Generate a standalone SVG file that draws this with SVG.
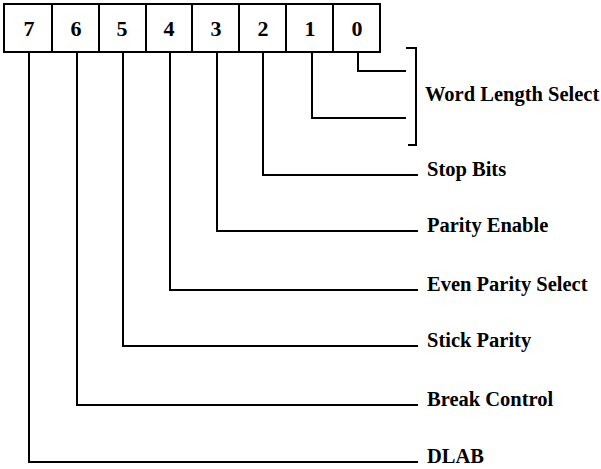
<svg xmlns="http://www.w3.org/2000/svg" width="601" height="469" viewBox="0 0 601 469">
<style>
.box{fill:#fff;stroke:#000;stroke-width:2}
.ln{fill:none;stroke:#000;stroke-width:2}
.d{font-family:"Liberation Serif","Times New Roman",serif;font-weight:bold;font-size:22px;text-anchor:middle}
.t{font-family:"Liberation Serif","Times New Roman",serif;font-weight:bold;font-size:20.5px}
</style>
<rect width="601" height="469" fill="#fff"/>
<g id="register">
<rect class="box" x="4" y="4" width="376" height="48"/>
<path class="ln" d="M52 4V52M99 4V52M146 4V52M192 4V52M239 4V52M286 4V52M333 4V52"/>
<text class="d" x="29" y="36">7</text>
<text class="d" x="76" y="36">6</text>
<text class="d" x="122" y="36">5</text>
<text class="d" x="169" y="36">4</text>
<text class="d" x="216" y="36">3</text>
<text class="d" x="263" y="36">2</text>
<text class="d" x="310" y="36">1</text>
<text class="d" x="357" y="36">0</text>
</g>
<g id="connectors">
<path class="ln" d="M358 52V71H406"/>
<path class="ln" d="M312 52V118H406"/>
<path class="ln" d="M406 48H416V145H408"/>
<path class="ln" d="M263 52V175H418"/>
<path class="ln" d="M217 52V231H418"/>
<path class="ln" d="M170 52V290H418"/>
<path class="ln" d="M123 52V346H418"/>
<path class="ln" d="M77 52V405H418"/>
<path class="ln" d="M29 52V462H418"/>
</g>
<g id="labels">
<text class="t" x="425" y="101">Word Length Select</text>
<text class="t" x="427" y="176">Stop Bits</text>
<text class="t" x="427" y="232">Parity Enable</text>
<text class="t" x="427" y="291">Even Parity Select</text>
<text class="t" x="427" y="347">Stick Parity</text>
<text class="t" x="427" y="406">Break Control</text>
<text class="t" x="427" y="463">DLAB</text>
</g>
</svg>
